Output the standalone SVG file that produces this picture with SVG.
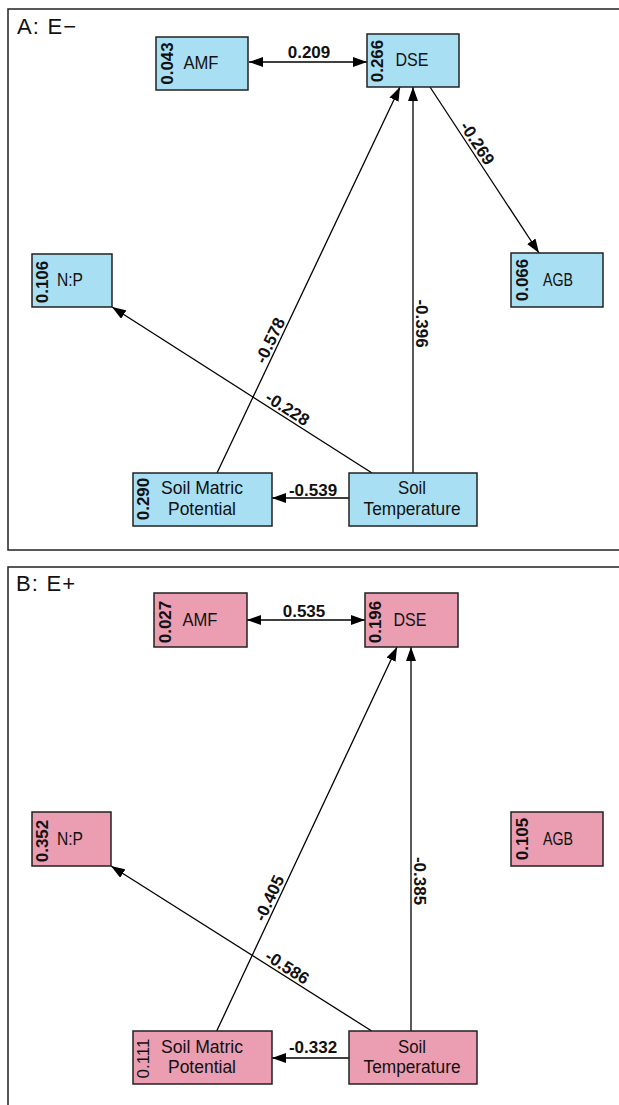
<svg xmlns="http://www.w3.org/2000/svg" width="619" height="1105" viewBox="0 0 619 1105">
<style>
.panel{fill:none;stroke:#222;stroke-width:1.5}
.nA{fill:#a8dff2;stroke:#222;stroke-width:1.5}
.nB{fill:#eb9db2;stroke:#222;stroke-width:1.5}
text{font-family:"Liberation Sans",Arial,Helvetica,sans-serif;fill:#111}
.title{font-size:22px;letter-spacing:1.2px}
.lbl{font-size:17.5px;text-anchor:middle}
.r2{font-size:17px;font-weight:bold;text-anchor:middle}
.r2n{font-size:17px;text-anchor:middle}
.el{font-size:17px;font-weight:bold;text-anchor:middle}
.edge{stroke:#000;stroke-width:1.3;fill:none;marker-end:url(#arr)}
.bi{marker-start:url(#arr)}
</style>
<defs>
<marker id="arr" viewBox="0 0 14 10" refX="14" refY="5" markerWidth="14" markerHeight="10" markerUnits="userSpaceOnUse" orient="auto-start-reverse">
<path d="M0,0 L14,5 L0,10 z" fill="#000"/>
</marker>
</defs>
<rect width="619" height="1105" fill="#fff"/>
<!-- Panel A -->
<g id="panelA">
<rect class="panel" x="8" y="9" width="620" height="541"/>
<text class="title" x="17" y="34">A: E−</text>
</g>
<g id="connectorsA">
<line class="edge bi" x1="249" y1="62" x2="367" y2="62"/>
<line class="edge" x1="430" y1="87" x2="539" y2="253"/>
<line class="edge" x1="413" y1="473" x2="413" y2="87"/>
<line class="edge" x1="217" y1="473" x2="400" y2="87"/>
<line class="edge" x1="372" y1="473" x2="112" y2="307"/>
<line class="edge" x1="349" y1="498" x2="272" y2="498"/>
<text class="el" x="309" y="58">0.209</text>
<text class="el" transform="translate(470,148) rotate(56.8)" y="-3">-0.269</text>
<text class="el" transform="translate(413,323.5) rotate(90)" y="-3">-0.396</text>
<text class="el" transform="translate(278,344.2) rotate(-64.6)" y="-3">-0.578</text>
<text class="el" transform="translate(282.8,416.1) rotate(32.55)" y="-3">-0.228</text>
<text class="el" x="313" y="496">-0.539</text>
</g>
<g id="A-AMF">
<rect class="nA" x="156" y="37" width="92" height="53"/>
<text class="lbl" x="201" y="69" textLength="35" lengthAdjust="spacingAndGlyphs">AMF</text>
<text class="r2" transform="translate(173,63.5) rotate(-90)">0.043</text>
</g>
<g id="A-DSE">
<rect class="nA" x="367" y="34" width="92" height="53"/>
<text class="lbl" x="412" y="66" textLength="33" lengthAdjust="spacingAndGlyphs">DSE</text>
<text class="r2" transform="translate(383,61) rotate(-90)">0.266</text>
</g>
<g id="A-NP">
<rect class="nA" x="32" y="254" width="80" height="53"/>
<text class="lbl" x="70" y="285.5" textLength="26" lengthAdjust="spacingAndGlyphs">N:P</text>
<text class="r2" transform="translate(48,282) rotate(-90)">0.106</text>
</g>
<g id="A-AGB">
<rect class="nA" x="511" y="253" width="92" height="54"/>
<text class="lbl" x="558" y="285.5" textLength="30" lengthAdjust="spacingAndGlyphs">AGB</text>
<text class="r2" transform="translate(528,280) rotate(-90)">0.066</text>
</g>
<g id="A-SMP">
<rect class="nA" x="133" y="473" width="139" height="53"/>
<text class="lbl" x="202" y="494" textLength="82" lengthAdjust="spacingAndGlyphs">Soil Matric</text>
<text class="lbl" x="202" y="515" textLength="68" lengthAdjust="spacingAndGlyphs">Potential</text>
<text class="r2" transform="translate(149,499) rotate(-90)">0.290</text>
</g>
<g id="A-ST">
<rect class="nA" x="349" y="473" width="128" height="53"/>
<text class="lbl" x="412" y="494" textLength="28" lengthAdjust="spacingAndGlyphs">Soil</text>
<text class="lbl" x="412" y="515" textLength="97" lengthAdjust="spacingAndGlyphs">Temperature</text>
</g>
<!-- Panel B -->
<g id="panelB">
<rect class="panel" x="8" y="567" width="620" height="560"/>
<text class="title" x="16" y="591">B: E+</text>
</g>
<g id="connectorsB">
<line class="edge bi" x1="247" y1="620" x2="365" y2="620"/>
<line class="edge" x1="411" y1="1031" x2="411" y2="647"/>
<line class="edge" x1="216.7" y1="1031" x2="397" y2="647"/>
<line class="edge" x1="371.7" y1="1031" x2="111" y2="866"/>
<line class="edge" x1="349" y1="1058" x2="272" y2="1058"/>
<text class="el" x="304" y="617">0.535</text>
<text class="el" transform="translate(411,881) rotate(90)" y="-3">-0.385</text>
<text class="el" transform="translate(277.3,901.9) rotate(-64.8)" y="-3">-0.405</text>
<text class="el" transform="translate(282.6,974.7) rotate(32.33)" y="-3">-0.586</text>
<text class="el" x="313" y="1053">-0.332</text>
</g>
<g id="B-AMF">
<rect class="nB" x="154" y="593" width="93" height="54"/>
<text class="lbl" x="200" y="626" textLength="35" lengthAdjust="spacingAndGlyphs">AMF</text>
<text class="r2" transform="translate(171,622) rotate(-90)">0.027</text>
</g>
<g id="B-DSE">
<rect class="nB" x="365" y="593" width="93" height="54"/>
<text class="lbl" x="410" y="626" textLength="33" lengthAdjust="spacingAndGlyphs">DSE</text>
<text class="r2" transform="translate(381,622) rotate(-90)">0.196</text>
</g>
<g id="B-NP">
<rect class="nB" x="32" y="812" width="79" height="54"/>
<text class="lbl" x="70" y="845" textLength="26" lengthAdjust="spacingAndGlyphs">N:P</text>
<text class="r2" transform="translate(48,841) rotate(-90)">0.352</text>
</g>
<g id="B-AGB">
<rect class="nB" x="511" y="812" width="92" height="54"/>
<text class="lbl" x="558" y="845" textLength="30" lengthAdjust="spacingAndGlyphs">AGB</text>
<text class="r2" transform="translate(528,839) rotate(-90)">0.105</text>
</g>
<g id="B-SMP">
<rect class="nB" x="133" y="1031" width="139" height="53"/>
<text class="lbl" x="202" y="1053" textLength="82" lengthAdjust="spacingAndGlyphs">Soil Matric</text>
<text class="lbl" x="202" y="1073" textLength="68" lengthAdjust="spacingAndGlyphs">Potential</text>
<text class="r2n" transform="translate(149,1058.5) rotate(-90)">0.111</text>
</g>
<g id="B-ST">
<rect class="nB" x="349" y="1031" width="128" height="53"/>
<text class="lbl" x="412" y="1053" textLength="28" lengthAdjust="spacingAndGlyphs">Soil</text>
<text class="lbl" x="412" y="1073" textLength="97" lengthAdjust="spacingAndGlyphs">Temperature</text>
</g>
</svg>
